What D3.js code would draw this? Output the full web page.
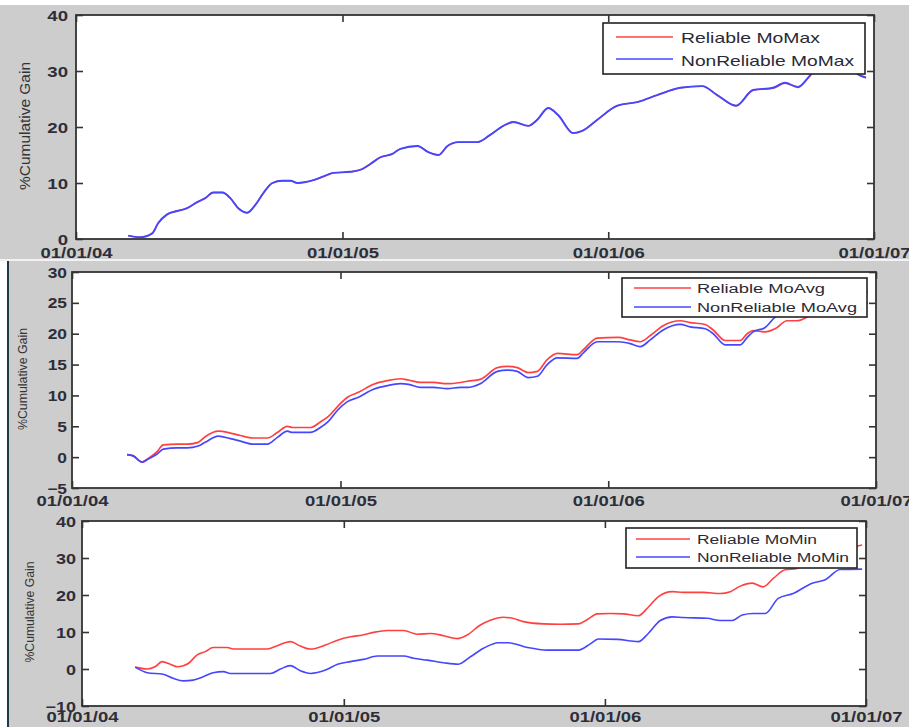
<!DOCTYPE html>
<html><head><meta charset="utf-8">
<script src="https://cdn.jsdelivr.net/npm/d3@7"></script>
<style>
body{margin:0;background:#fff;}
svg{display:block;font-family:"Liberation Sans",Arial,sans-serif;}
</style></head>
<body><svg id="c" width="909" height="727"></svg>
<script>
// ---------- DATA ----------
const xTickLabels = ["01/01/04","01/01/05","01/01/06","01/01/07"];
const xTickDates = ["2004-01-01","2005-01-01","2006-01-01","2007-01-01"];
const yLabel = "%Cumulative Gain";

const maxTicks = [0,10,20,30,40];
const avgTicks = [-5,0,5,10,15,20,25,30];
const minTicks = [-10,0,10,20,30,40];

const maxLegend = ["Reliable MoMax","NonReliable MoMax"];
const avgLegend = ["Reliable MoAvg","NonReliable MoAvg"];
const minLegend = ["Reliable MoMin","NonReliable MoMin"];

// time as decimal years
const maxTimes = [2004.196,2004.241,2004.286,2004.308,2004.342,2004.380,2004.417,2004.455,2004.485,2004.515,
 2004.549,2004.579,2004.609,2004.643,2004.673,2004.703,2004.737,2004.774,2004.805,2004.831,
 2004.891,2004.936,2004.966,2005.030,2005.075,2005.105,2005.143,2005.188,2005.218,2005.282,
 2005.323,2005.361,2005.395,2005.436,2005.508,2005.556,2005.605,2005.643,2005.699,2005.733,
 2005.774,2005.812,2005.868,2005.902,2005.959,2006.034,2006.113,2006.184,2006.271,2006.353,
 2006.410,2006.481,2006.545,2006.620,2006.665,2006.714,2006.752,2006.778,2006.816,2006.872,
 2006.910,2006.940,2006.970];
const maxReliable = [0.6,0.3,1.0,2.8,4.4,5.0,5.5,6.6,7.3,8.3,
 8.3,7.3,5.5,4.7,6.1,8.2,10.0,10.4,10.4,10.0,
 10.5,11.3,11.8,12.0,12.5,13.4,14.6,15.2,16.1,16.6,
 15.5,15.0,16.6,17.3,17.3,18.6,20.2,20.9,20.2,21.3,
 23.4,22.1,18.9,19.3,21.3,23.8,24.5,25.7,27.0,27.3,
 25.7,23.8,26.6,26.9,27.8,27.2,28.7,30.2,31.0,31.4,
 30.5,29.4,28.8];
const maxNonReliable = [0.6,0.3,1.0,2.8,4.4,5.0,5.5,6.6,7.3,8.3,
 8.3,7.3,5.5,4.7,6.1,8.2,10.0,10.4,10.4,10.0,
 10.5,11.3,11.8,12.0,12.5,13.4,14.6,15.2,16.1,16.6,
 15.5,15.0,16.6,17.3,17.3,18.6,20.2,20.9,20.2,21.3,
 23.4,22.1,18.9,19.3,21.3,23.8,24.5,25.7,27.0,27.3,
 25.7,23.8,26.6,27.0,27.9,27.1,28.8,30.2,31.0,31.4,
 30.5,29.4,28.8];

const avgTimes = [2004.205,2004.228,2004.261,2004.284,2004.317,2004.340,2004.392,2004.429,2004.470,2004.496,
 2004.545,2004.590,2004.627,2004.675,2004.728,2004.765,2004.802,2004.821,2004.888,2004.925,
 2004.955,2004.989,2005.026,2005.067,2005.123,2005.175,2005.224,2005.254,2005.299,2005.347,
 2005.399,2005.448,2005.474,2005.522,2005.586,2005.623,2005.660,2005.701,2005.735,2005.772,
 2005.810,2005.884,2005.907,2005.959,2006.037,2006.082,2006.119,2006.157,2006.205,2006.269,
 2006.306,2006.362,2006.392,2006.437,2006.493,2006.519,2006.541,2006.586,2006.623,2006.668,
 2006.705,2006.754,2006.810,2006.866,2006.903,2006.970];
const avgReliable = [0.4,0.2,-0.8,-0.2,0.9,2.0,2.1,2.1,2.4,3.3,
 4.2,3.9,3.5,3.1,3.1,4.0,5.0,4.8,4.8,5.7,
 6.6,8.2,9.7,10.5,11.8,12.4,12.7,12.5,12.1,12.1,
 11.9,12.1,12.3,12.6,14.5,14.7,14.5,13.7,13.9,15.8,
 16.8,16.6,17.4,19.3,19.4,19.0,18.7,19.7,21.3,22.1,
 21.8,21.5,20.6,18.9,18.9,20.0,20.5,20.3,20.8,22.1,
 22.1,22.9,23.6,24.2,24.6,25.0];
const avgNonReliable = [0.4,0.2,-0.8,-0.3,0.5,1.3,1.5,1.5,1.8,2.4,
 3.4,3.0,2.6,2.1,2.1,3.2,4.2,4.0,4.0,4.8,
 5.8,7.6,9.0,9.7,11.0,11.6,11.9,11.8,11.3,11.3,
 11.1,11.3,11.3,11.9,13.9,14.1,13.9,12.9,13.1,15.0,
 16.1,16.0,16.9,18.7,18.7,18.4,17.9,19.0,20.6,21.5,
 21.1,20.8,20.0,18.2,18.2,19.4,20.3,21.0,22.7,23.8,
 24.5,25.2,25.8,26.3,26.6,26.8];

const minReliableTimes = [2004.203,2004.249,2004.279,2004.306,2004.337,2004.364,2004.387,2004.406,2004.440,2004.471,
 2004.501,2004.555,2004.578,2004.708,2004.746,2004.796,2004.834,2004.873,2004.930,2004.976,
 2005.026,2005.072,2005.114,2005.167,2005.229,2005.282,2005.332,2005.382,2005.435,2005.473,
 2005.523,2005.561,2005.611,2005.646,2005.688,2005.764,2005.829,2005.898,2005.933,2005.971,
 2006.021,2006.070,2006.128,2006.166,2006.204,2006.258,2006.300,2006.377,2006.442,2006.480,
 2006.518,2006.564,2006.606,2006.645,2006.690,2006.736,2006.794,2006.863,2006.932,2006.985];
const minReliable = [0.5,0.0,0.6,2.0,1.3,0.6,0.9,1.5,3.8,4.7,
 5.8,5.8,5.4,5.4,6.3,7.4,6.2,5.4,6.5,7.8,
 8.7,9.2,9.9,10.4,10.4,9.4,9.6,9.0,8.2,9.2,
 11.9,13.2,14.0,13.7,12.8,12.2,12.1,12.2,13.4,14.9,
 15.0,14.9,14.4,16.7,19.5,20.9,20.7,20.7,20.4,20.9,
 22.4,23.2,22.2,24.5,26.8,27.2,29.0,31.0,32.5,33.5];
const minNonReliableTimes = [2004.203,2004.249,2004.310,2004.348,2004.387,2004.425,2004.463,2004.501,2004.540,2004.566,
 2004.720,2004.758,2004.796,2004.834,2004.873,2004.930,2004.976,2005.026,2005.075,2005.129,
 2005.229,2005.267,2005.320,2005.382,2005.439,2005.485,2005.535,2005.592,2005.630,2005.703,
 2005.780,2005.898,2005.944,2005.975,2006.048,2006.128,2006.166,2006.212,2006.258,2006.300,
 2006.392,2006.442,2006.488,2006.526,2006.568,2006.614,2006.664,2006.721,2006.794,2006.844,
 2006.901,2006.985];
const minNonReliable = [0.5,-1.0,-1.4,-2.5,-3.2,-3.0,-2.1,-1.0,-0.7,-1.2,
 -1.2,0.0,0.9,-0.5,-1.2,-0.3,1.3,2.0,2.6,3.5,
 3.5,2.9,2.4,1.7,1.3,3.3,5.6,7.1,7.1,5.8,
 5.1,5.1,6.8,8.1,8.0,7.4,9.6,13.1,14.1,13.9,
 13.7,13.1,13.1,14.6,15.0,15.0,19.1,20.4,23.2,24.1,
 26.9,27.0];

// ---------- HELPERS ----------
const RED = "#ff4040", BLUE = "#4646ff";
function toDate(y){
  const yr = Math.floor(y);
  const s = new Date(yr,0,1), e = new Date(yr+1,0,1);
  return new Date(+s + (y-yr)*(e-s));
}
const parse = d3.timeParse("%Y-%m-%d");
const tickDates = xTickDates.map(parse);

const svg = d3.select("#c");

// backgrounds
svg.append("rect").attr("x",0).attr("y",5).attr("width",909).attr("height",254).attr("fill","#cdcdcd");
svg.append("rect").attr("x",9).attr("y",261).attr("width",900).attr("height",466).attr("fill","#cdcdcd");
svg.append("line").attr("x1",8).attr("x2",8).attr("y1",261).attr("y2",727).attr("stroke","#1d3b47").attr("stroke-width",2);

const panels = [
  {top:15,bottom:239,left:76,right:874,yDomain:[0,40],yTicks:maxTicks,
   series:[{t:maxTimes,v:maxReliable,c:RED,w:1.4},{t:maxTimes,v:maxNonReliable,c:BLUE,w:1.9}],
   legendLabels:maxLegend, lg:{x1:603,y1:23,x2:865,y2:74,lx1:616,lx2:673,tx:681,rows:[37,59],base:[43,66],fs:14.5,w:[139,173]},
   yl:{x:25,y:126,fs:15.5,len:128}, xLabelY:258, yLabelRight:68, tickFs:15},
  {top:272,bottom:488,left:72,right:876,yDomain:[-5,30],yTicks:avgTicks,
   series:[{t:avgTimes,v:avgReliable,c:RED,w:1.7},{t:avgTimes,v:avgNonReliable,c:BLUE,w:1.7}],
   legendLabels:avgLegend, lg:{x1:622,y1:278,x2:867,y2:317,lx1:634,lx2:691,tx:697,rows:[288,307],base:[293,312],fs:12.5,w:[128,160]},
   yl:{x:23,y:379,fs:12.3,len:102}, xLabelY:506, yLabelRight:67, tickFs:14},
  {top:521,bottom:706,left:82,right:866,yDomain:[-10,40],yTicks:minTicks,
   series:[{t:minReliableTimes,v:minReliable,c:RED,w:1.6},{t:minNonReliableTimes,v:minNonReliable,c:BLUE,w:1.6}],
   legendLabels:minLegend, lg:{x1:626,y1:528,x2:857,y2:568,lx1:636,lx2:690,tx:697,rows:[539,557],base:[544,562],fs:12.5,w:[120,152]},
   yl:{x:30,y:612,fs:12.3,len:101}, xLabelY:722, yLabelRight:76, tickFs:14.5}
];

const TXT = "#2e2e3a";

panels.forEach(p => {
  const g = svg.append("g");
  const x = d3.scaleTime().domain([tickDates[0], tickDates[3]]).range([p.left,p.right]);
  const y = d3.scaleLinear().domain(p.yDomain).range([p.bottom,p.top]);

  g.append("rect").attr("x",p.left).attr("y",p.top).attr("width",p.right-p.left).attr("height",p.bottom-p.top).attr("fill","#fff");

  // lines
  const line = d3.line().x(d=>x(d[0])).y(d=>y(d[1])).curve(d3.curveMonotoneX);
  p.series.forEach(s => {
    const pts = s.t.map((t,i)=>[toDate(t), s.v[i]]);
    g.append("path").datum(pts).attr("d",line).attr("fill","none")
      .attr("stroke",s.c).attr("stroke-width",s.w).attr("stroke-linejoin","round");
  });

  // axes (ticks inward)
  const fmt = (d,i)=>xTickLabels[i];
  const bx = g.append("g").attr("transform",`translate(0,${p.bottom})`)
    .call(d3.axisBottom(x).tickValues(tickDates).tickFormat(fmt).tickSizeInner(-7).tickSizeOuter(0));
  const tx = g.append("g").attr("transform",`translate(0,${p.top})`)
    .call(d3.axisTop(x).tickValues(tickDates).tickFormat("").tickSizeInner(-7).tickSizeOuter(0));
  const ly = g.append("g").attr("transform",`translate(${p.left},0)`)
    .call(d3.axisLeft(y).tickValues(p.yTicks).tickSizeInner(-7).tickSizeOuter(0));
  const ry = g.append("g").attr("transform",`translate(${p.right},0)`)
    .call(d3.axisRight(y).tickValues(p.yTicks).tickFormat("").tickSizeInner(-7).tickSizeOuter(0));
  [bx,tx,ly,ry].forEach(a=>{
    a.select(".domain").remove();
    a.selectAll("line").attr("stroke","#333").attr("stroke-width",1.6);
  });
  bx.selectAll("text").attr("y", p.xLabelY - p.bottom).attr("dy",0)
    .attr("font-size",p.tickFs).attr("font-weight","bold").attr("fill",TXT).attr("font-family","Liberation Sans, Arial, sans-serif");
  ly.selectAll("text").attr("x", p.yLabelRight - p.left).attr("dy","0.36em")
    .attr("font-size",p.tickFs).attr("font-weight","bold").attr("fill",TXT).attr("font-family","Liberation Sans, Arial, sans-serif");

  // box
  g.append("rect").attr("x",p.left).attr("y",p.top).attr("width",p.right-p.left).attr("height",p.bottom-p.top)
    .attr("fill","none").attr("stroke","#333").attr("stroke-width",1.8);

  // stretch tick labels horizontally
  bx.selectAll("text").each(function(){ this.setAttribute("textLength", 72); this.setAttribute("lengthAdjust","spacingAndGlyphs"); });
  ly.selectAll("text").each(function(){ const w=this.getComputedTextLength(); this.setAttribute("textLength", w*1.24); this.setAttribute("lengthAdjust","spacingAndGlyphs"); });

  // y label
  g.append("text").attr("transform",`translate(${p.yl.x},${p.yl.y}) rotate(-90)`)
    .attr("text-anchor","middle").attr("dy","0.35em").attr("font-size",p.yl.fs).attr("fill","#333")
    .attr("textLength",p.yl.len).attr("lengthAdjust","spacingAndGlyphs").text(yLabel);

  // legend
  const L = p.lg;
  g.append("rect").attr("x",L.x1).attr("y",L.y1).attr("width",L.x2-L.x1).attr("height",L.y2-L.y1)
    .attr("fill","#fff").attr("stroke","#222").attr("stroke-width",1.6);
  p.series.forEach((s,i)=>{
    g.append("line").attr("x1",L.lx1).attr("x2",L.lx2).attr("y1",L.rows[i]).attr("y2",L.rows[i])
      .attr("stroke",s.c).attr("stroke-width",1.5);
    g.append("text").attr("x",L.tx).attr("y",L.base[i]).attr("font-size",L.fs).attr("fill","#2a2a36")
      .attr("textLength",L.w[i]).attr("lengthAdjust","spacingAndGlyphs").text(p.legendLabels[i]);
  });
});

// thin separator between first and second image
svg.append("line").attr("x1",0).attr("x2",909).attr("y1",260).attr("y2",260).attr("stroke","#eeeeee").attr("stroke-width",1.5);
</script>
</body></html>
